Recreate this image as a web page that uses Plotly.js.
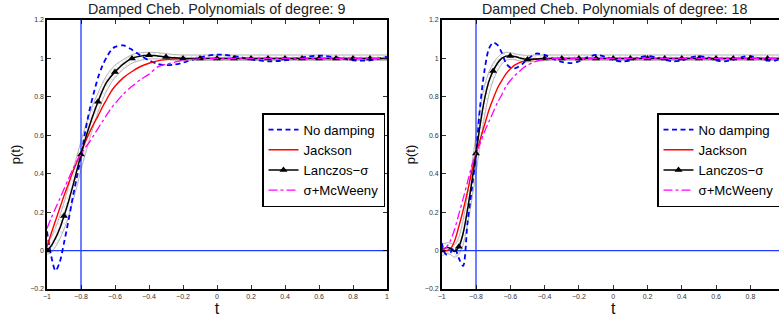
<!DOCTYPE html>
<html>
<head>
<meta charset="utf-8">
<script src="https://cdn.plot.ly/plotly-3.0.1.min.js"></script>
<style>
html,body{margin:0;padding:0;overflow:hidden;background:#fff;}
#chart{width:790px;height:321px;}
</style>
</head>
<body>
<div id="chart"></div>
<script>
// ---------- data ----------
const seriesNames = ['No damping', 'Jackson', 'Lanczos\u2212\u03c3', '\u03c3+McWeeny'];
const plotTitles = ['Damped Cheb. Polynomials of degree: 9', 'Damped Cheb. Polynomials of degree: 18'];
const stepT = -0.8;      // vertical reference line
const zeroLevel = 0;     // horizontal reference line
const xRange = [-1, 1];
const yRange = [-0.2, 1.2];
const xTicksLeft = [-1, -0.8, -0.6, -0.4, -0.2, 0, 0.2, 0.4, 0.6, 0.8, 1];
const xTicksRight = [-1, -0.8, -0.6, -0.4, -0.2, 0, 0.2, 0.4, 0.6, 0.8];
const yTicks = [-0.2, 0, 0.2, 0.4, 0.6, 0.8, 1, 1.2];

// degree 9 (left)
const tLeft = [-1, -0.975, -0.95, -0.925, -0.9, -0.875, -0.85, -0.825, -0.8, -0.775, -0.75, -0.725, -0.7, -0.675, -0.65, -0.625, -0.6, -0.55, -0.5, -0.45, -0.4, -0.35, -0.3, -0.25, -0.2, -0.1, 0, 0.1, 0.2, 0.3, 0.4, 0.5, 0.6, 0.7, 0.8, 0.9, 1];
const noDampLeft = [0.10, -0.03, -0.105, -0.06, 0.04, 0.15, 0.27, 0.38, 0.49, 0.62, 0.73, 0.82, 0.90, 0.96, 1.005, 1.04, 1.06, 1.068, 1.045, 1.015, 0.99, 0.972, 0.965, 0.968, 0.978, 1.005, 1.02, 1.012, 0.995, 0.985, 0.99, 1.005, 1.015, 1.005, 0.99, 0.99, 1.01];
const jacksonLeft = [0.02, 0.09, 0.155, 0.22, 0.285, 0.345, 0.405, 0.46, 0.51, 0.565, 0.615, 0.66, 0.70, 0.745, 0.785, 0.825, 0.855, 0.90, 0.932, 0.958, 0.975, 0.987, 0.994, 0.997, 0.999, 1.0, 1.0, 1.0, 1.0, 1.0, 1.0, 1.0, 1.0, 1.0, 1.0, 1.0, 1.0];
const lanczosLeft = [0.0, 0.025, 0.065, 0.115, 0.18, 0.25, 0.33, 0.415, 0.5, 0.58, 0.65, 0.715, 0.775, 0.83, 0.875, 0.905, 0.93, 0.972, 1.0, 1.012, 1.016, 1.013, 1.008, 1.003, 1.0, 0.999, 1.0, 1.0, 1.0, 1.0, 1.0, 1.0, 1.0, 1.0, 1.0, 1.0, 1.0];
const mcweenyLeft = [0.115, 0.17, 0.22, 0.27, 0.32, 0.37, 0.42, 0.465, 0.5, 0.535, 0.565, 0.6, 0.635, 0.67, 0.705, 0.738, 0.765, 0.815, 0.855, 0.89, 0.918, 0.955, 0.97, 0.98, 0.99, 0.998, 1.0, 1.0, 1.0, 1.0, 1.0, 1.0, 1.0, 1.0, 1.0, 1.0, 1.0];
const bandUpLeft = [0.03, 0.07, 0.12, 0.18, 0.25, 0.33, 0.41, 0.49, 0.57, 0.645, 0.71, 0.77, 0.82, 0.87, 0.91, 0.94, 0.965, 0.995, 1.02, 1.03, 1.032, 1.03, 1.025, 1.02, 1.018, 1.018, 1.018, 1.018, 1.018, 1.018, 1.018, 1.018, 1.018, 1.018, 1.018, 1.018, 1.018];
const bandLoLeft = [-0.02, -0.01, 0.02, 0.06, 0.11, 0.17, 0.25, 0.33, 0.42, 0.5, 0.58, 0.65, 0.72, 0.78, 0.83, 0.87, 0.9, 0.945, 0.975, 0.99, 0.997, 0.997, 0.994, 0.99, 0.99, 0.99, 0.99, 0.99, 0.99, 0.99, 0.99, 0.99, 0.99, 0.99, 0.99, 0.99, 0.99];

// degree 18 (right)
const tRight = [-1, -0.975, -0.95, -0.925, -0.9, -0.875, -0.85, -0.825, -0.8, -0.775, -0.75, -0.725, -0.7, -0.675, -0.65, -0.625, -0.6, -0.575, -0.55, -0.525, -0.5, -0.45, -0.4, -0.35, -0.3, -0.25, -0.2, -0.15, -0.1, -0.05, 0, 0.05, 0.1, 0.15, 0.2, 0.25, 0.3, 0.35, 0.4, 0.45, 0.5, 0.55, 0.6, 0.65, 0.7, 0.75, 0.8, 0.85, 0.9, 0.95, 1];
const noDampRight = [0.04, -0.02, -0.01, 0.015, -0.04, -0.08, 0.14, 0.316, 0.5, 0.76, 0.94, 1.05, 1.082, 1.07, 1.03, 0.975, 0.952, 0.948, 0.958, 0.975, 0.995, 1.025, 1.018, 0.998, 0.982, 0.976, 0.985, 1.005, 1.018, 1.01, 0.993, 0.984, 0.99, 1.005, 1.012, 1.005, 0.992, 0.985, 0.99, 1.005, 1.012, 1.005, 0.99, 0.985, 0.993, 1.007, 1.012, 1.0, 0.988, 0.99, 1.01];
const jacksonRight = [0.0, 0.0, 0.008, 0.05, 0.125, 0.21, 0.305, 0.41, 0.5, 0.58, 0.655, 0.73, 0.79, 0.845, 0.885, 0.92, 0.945, 0.965, 0.977, 0.985, 0.99, 0.996, 0.999, 1.0, 1.0, 1.0, 1.0, 1.0, 1.0, 1.0, 1.0, 1.0, 1.0, 1.0, 1.0, 1.0, 1.0, 1.0, 1.0, 1.0, 1.0, 1.0, 1.0, 1.0, 1.0, 1.0, 1.0, 1.0, 1.0, 1.0, 1.0];
const lanczosRight = [0.0, 0.015, 0.012, -0.005, 0.02, 0.09, 0.21, 0.355, 0.505, 0.66, 0.79, 0.88, 0.935, 0.975, 1.0, 1.012, 1.013, 1.01, 1.004, 0.998, 0.995, 0.997, 1.0, 1.0, 1.0, 1.0, 1.0, 1.0, 1.0, 1.0, 1.0, 1.0, 1.0, 1.0, 1.0, 1.0, 1.0, 1.0, 1.0, 1.0, 1.0, 1.0, 1.0, 1.0, 1.0, 1.0, 1.0, 1.0, 1.0, 1.0, 1.0];
const mcweenyRight = [0.0, 0.015, 0.05, 0.11, 0.19, 0.27, 0.355, 0.44, 0.51, 0.56, 0.62, 0.67, 0.72, 0.77, 0.81, 0.855, 0.885, 0.91, 0.93, 0.95, 0.965, 0.985, 0.995, 1.0, 1.0, 1.0, 1.0, 1.0, 1.0, 1.0, 1.0, 1.0, 1.0, 1.0, 1.0, 1.0, 1.0, 1.0, 1.0, 1.0, 1.0, 1.0, 1.0, 1.0, 1.0, 1.0, 1.0, 1.0, 1.0, 1.0, 1.0];
const bandUpRight = [0.03, 0.04, 0.04, 0.03, 0.07, 0.16, 0.29, 0.44, 0.6, 0.75, 0.86, 0.93, 0.975, 1.005, 1.025, 1.032, 1.03, 1.025, 1.02, 1.017, 1.016, 1.018, 1.018, 1.018, 1.018, 1.018, 1.018, 1.018, 1.018, 1.018, 1.018, 1.018, 1.018, 1.018, 1.018, 1.018, 1.018, 1.018, 1.018, 1.018, 1.018, 1.018, 1.018, 1.018, 1.018, 1.018, 1.018, 1.018, 1.018, 1.018, 1.018];
const bandLoRight = [-0.03, -0.015, -0.02, -0.035, -0.02, 0.03, 0.13, 0.26, 0.4, 0.56, 0.7, 0.81, 0.885, 0.935, 0.97, 0.99, 0.995, 0.993, 0.988, 0.984, 0.982, 0.985, 0.99, 0.99, 0.99, 0.99, 0.99, 0.99, 0.99, 0.99, 0.99, 0.99, 0.99, 0.99, 0.99, 0.99, 0.99, 0.99, 0.99, 0.99, 0.99, 0.99, 0.99, 0.99, 0.99, 0.99, 0.99, 0.99, 0.99, 0.99, 0.99];

// ---------- build ----------
const FIG_W = 790, FIG_H = 321;
const FONT = 'Liberation Sans, Arial, Helvetica, sans-serif';
const px = v => v / FIG_W;
const py = v => 1 - v / FIG_H;

function markerPoints(t, y) {
  const mx = [], my = [];
  t.forEach((v, i) => {
    const k = Math.round(v * 10);
    if (Math.abs(v * 10 - k) < 1e-6 && v < 0.95) { mx.push(v); my.push(y[i]); }
  });
  return {mx, my};
}

function panel(t, nd, jk, lz, mw, up, lo, xa, ya, leg) {
  const tr = [];
  tr.push({x: t, y: lo, xaxis: xa, yaxis: ya, mode: 'lines', line: {color: '#a0a0a0', width: 0.8, shape: 'spline', smoothing: 0.6}, showlegend: false, hoverinfo: 'skip'});
  tr.push({x: t, y: up, xaxis: xa, yaxis: ya, mode: 'lines', fill: 'tonexty', fillcolor: 'rgba(255,255,255,0)',
           fillpattern: {shape: 'x', fgcolor: '#bdbdbd', bgcolor: 'rgba(255,255,255,0)', size: 4, solidity: 0.2},
           line: {color: '#a0a0a0', width: 0.8, shape: 'spline', smoothing: 0.6}, showlegend: false, hoverinfo: 'skip'});
  tr.push({x: [stepT, stepT], y: yRange, xaxis: xa, yaxis: ya, mode: 'lines', line: {color: '#1f3cff', width: 1.3}, showlegend: false});
  tr.push({x: xRange, y: [zeroLevel, zeroLevel], xaxis: xa, yaxis: ya, mode: 'lines', line: {color: '#1f3cff', width: 1.3}, showlegend: false});
  tr.push({x: t, y: nd, xaxis: xa, yaxis: ya, mode: 'lines', name: seriesNames[0], legend: leg,
           line: {color: '#0000ff', width: 1.8, dash: '5px,3.5px', shape: 'spline', smoothing: 0.8}});
  tr.push({x: t, y: jk, xaxis: xa, yaxis: ya, mode: 'lines', name: seriesNames[1], legend: leg,
           line: {color: '#ff0000', width: 1.4, shape: 'spline', smoothing: 0.8}});
  tr.push({x: t, y: lz, xaxis: xa, yaxis: ya, mode: 'lines', showlegend: false,
           line: {color: '#000000', width: 1.5, shape: 'spline', smoothing: 0.8}});
  const m = markerPoints(t, lz);
  tr.push({x: m.mx, y: m.my, xaxis: xa, yaxis: ya, mode: 'markers', showlegend: false,
           marker: {symbol: 'triangle-up', size: 7, color: '#000'}});
  tr.push({x: [null], y: [null], xaxis: xa, yaxis: ya, mode: 'lines+markers', name: seriesNames[2], legend: leg,
           line: {color: '#000', width: 1.5}, marker: {symbol: 'triangle-up', size: 7, color: '#000'}});
  tr.push({x: t, y: mw, xaxis: xa, yaxis: ya, mode: 'lines', name: seriesNames[3], legend: leg,
           line: {color: '#ff00ff', width: 1.3, dash: 'dashdot', shape: 'spline', smoothing: 0.8}});
  return tr;
}

const data = [].concat(
  panel(tLeft, noDampLeft, jacksonLeft, lanczosLeft, mcweenyLeft, bandUpLeft, bandLoLeft, 'x', 'y', 'legend'),
  panel(tRight, noDampRight, jacksonRight, lanczosRight, mcweenyRight, bandUpRight, bandLoRight, 'x2', 'y2', 'legend2')
);

function xax(dom, anchor, tv) {
  return {domain: dom, anchor: anchor, range: xRange, tickmode: 'array', tickvals: tv, ticks: 'inside', ticklen: 4, tickwidth: 0.8,
          tickcolor: '#000', showline: true, linecolor: '#000', linewidth: 1.6, mirror: 'ticks', showgrid: false, zeroline: false,
          tickfont: {size: 7, color: '#333', family: FONT},
          title: {text: 't', font: {size: 16, color: '#111', family: FONT}, standoff: 4}};
}
function yax(anchor) {
  return {domain: [py(289), py(20)], anchor: anchor, range: yRange, tickmode: 'array', tickvals: yTicks, ticks: 'inside', ticklen: 4, tickwidth: 0.8,
          tickcolor: '#000', showline: true, linecolor: '#000', linewidth: 1.6, mirror: 'ticks', showgrid: false, zeroline: false,
          tickfont: {size: 7, color: '#333', family: FONT},
          title: {text: 'p(t)', font: {size: 13, color: '#111', family: FONT}, standoff: 6}};
}
function legendCfg(x) {
  return {x: x, y: py(113), xanchor: 'left', yanchor: 'top', bgcolor: '#fff', bordercolor: '#000', borderwidth: 1.5,
          traceorder: 'normal', font: {size: 13.2, color: '#000', family: FONT}, itemwidth: 30, tracegroupgap: 0};
}

const layout = {
  width: FIG_W, height: FIG_H,
  margin: {l: 0, r: 0, t: 0, b: 0},
  paper_bgcolor: '#fff', plot_bgcolor: '#fff',
  font: {family: FONT},
  xaxis: xax([px(47), px(387)], 'y', xTicksLeft),
  yaxis: yax('x'),
  xaxis2: xax([px(441.7), px(784.7)], 'y2', xTicksRight),
  yaxis2: yax('x2'),
  legend: legendCfg(px(262)),
  legend2: legendCfg(px(657)),
  annotations: [
    {text: plotTitles[0], xref: 'paper', yref: 'paper', x: px(217), y: py(9), xanchor: 'center', yanchor: 'middle', showarrow: false, font: {size: 14.3, color: '#222', family: FONT}},
    {text: plotTitles[1], xref: 'paper', yref: 'paper', x: px(614), y: py(9), xanchor: 'center', yanchor: 'middle', showarrow: false, font: {size: 14.3, color: '#222', family: FONT}}
  ]
};

Plotly.newPlot('chart', data, layout, {displayModeBar: false, staticPlot: true});
</script>
</body>
</html>
